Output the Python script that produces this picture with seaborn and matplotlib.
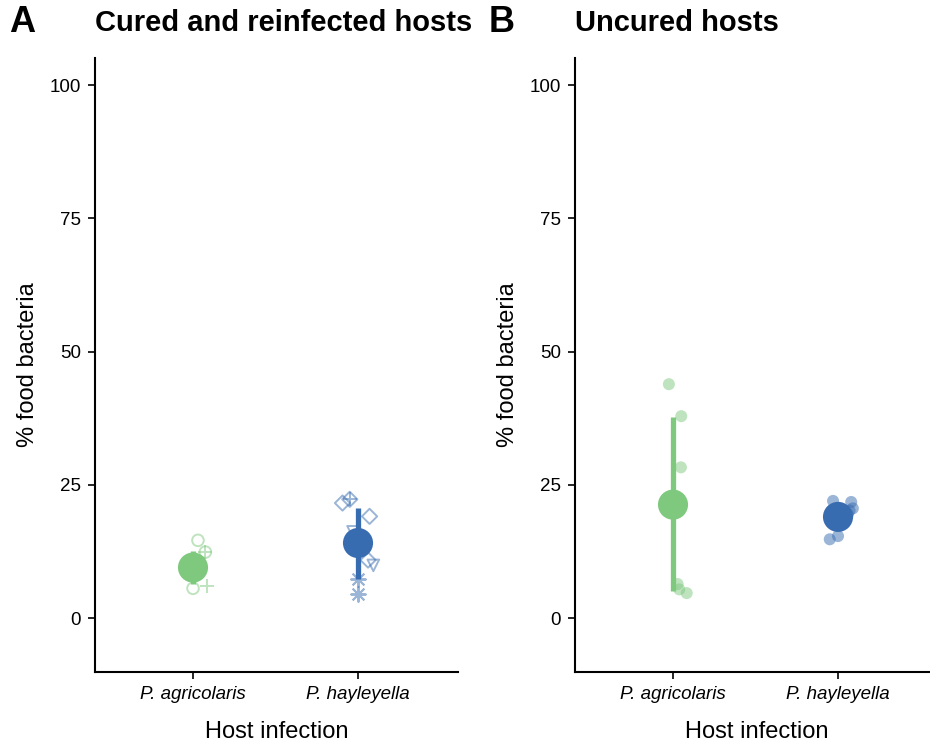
import numpy as np
import pandas as pd
import matplotlib
matplotlib.use("Agg")
import matplotlib.pyplot as plt
from matplotlib.markers import MarkerStyle
import seaborn as sns

# ---------------- data ----------------
hosts = ["P. agricolaris", "P. hayleyella"]
host_colors = ["#7fc97f", "#386cb0"]
yticks = [0, 25, 50, 75, 100]

# Panel A: cured and reinfected hosts (one marker shape per host clone)
a_host = ["P. agricolaris"] * 4 + ["P. hayleyella"] * 8
a_value = [14.6, 12.4, 5.6, 6.0,
           21.6, 22.3, 19.1, 16.2, 10.9, 9.9, 7.4, 4.6]
a_shape = ["circle", "circle plus", "circle", "plus",
           "diamond", "diamond plus", "diamond", "triangle down",
           "diamond", "triangle down", "asterisk", "asterisk"]
a_jitter = [0.03, 0.075, 0.0, 0.083,
            -0.094, -0.05, 0.07, -0.03, 0.061, 0.093, 0.0, 0.0]
a_mean = [9.5, 14.1]
a_low = [6.4, 7.3]
a_high = [12.6, 20.6]

# Panel B: uncured hosts
b_host = ["P. agricolaris"] * 6 + ["P. hayleyella"] * 8
b_value = [43.9, 37.9, 28.3, 6.4, 5.4, 4.7,
           22.0, 21.8, 20.6, 14.8, 15.4, 19.5, 18.6, 20.2]
b_jitter = [-0.025, 0.05, 0.048, 0.028, 0.038, 0.083,
            -0.03, 0.08, 0.09, -0.05, 0.0, 0.06, -0.02, 0.07]
b_mean = [21.3, 19.0]
b_low = [5.1, 16.6]
b_high = [37.7, 21.4]

# ---------------- style ----------------
sns.set_theme(style="ticks")
plt.rcParams["font.family"] = ["Liberation Sans", "DejaVu Sans"]
plt.rcParams["text.color"] = "black"
plt.rcParams["axes.labelcolor"] = "black"

W, H = 930, 744
fig = plt.figure(figsize=(W / 100, H / 100), dpi=100)

ax_w = 363 / W
ax_h = (672 - 58) / H
ax_b = 1 - 672 / H
axA = fig.add_axes([95 / W, ax_b, ax_w, ax_h])
axB = fig.add_axes([575 / W, ax_b, ax_w, ax_h])

shape_markers = {
    "circle": ["o"],
    "circle plus": ["o", "+"],
    "plus": ["+"],
    "diamond": ["D"],
    "diamond plus": ["D", "+"],
    "triangle down": ["v"],
    "asterisk": [(8, 2, 0)],
}
marker_sizes = {"o": 70, "+": 110, "D": 60, "v": 70, (8, 2, 0): 110}

pos = {h: i for i, h in enumerate(hosts)}
col = dict(zip(hosts, host_colors))


def draw_summary(ax, means, lows, highs):
    sdf = pd.DataFrame({"host": hosts, "mean": means, "low": lows, "high": highs})
    sdf["x"] = sdf["host"].map(pos)
    for _, r in sdf.iterrows():
        ax.vlines(r["x"], r["low"], r["high"], color=col[r["host"]],
                  linewidth=3.8, zorder=3)
    sns.scatterplot(data=sdf, x="x", y="mean", hue="host", palette=col,
                    s=470, edgecolor="none", alpha=1, legend=False,
                    ax=ax, zorder=4)


def style_axis(ax):
    ax.set_xlim(-0.594, 1.606)
    ax.set_ylim(-10.1, 105.1)
    ax.set_xticks(range(len(hosts)))
    ax.set_xticklabels(hosts, fontstyle="italic", fontsize=13.5)
    ax.set_yticks(yticks)
    ax.set_yticklabels([str(t) for t in yticks], fontsize=13.5)
    ax.set_xlabel("Host infection", fontsize=17, labelpad=13)
    ax.set_ylabel("% food bacteria", fontsize=17, labelpad=8)
    for s in ["top", "right"]:
        ax.spines[s].set_visible(False)
    for s in ["left", "bottom"]:
        ax.spines[s].set_linewidth(1.5)
        ax.spines[s].set_color("black")
    ax.tick_params(axis="both", width=1.2, length=5, color="black",
                   labelcolor="black", pad=5)


# Panel A
dfA = pd.DataFrame({"host": a_host, "value": a_value, "shape": a_shape,
                    "jit": a_jitter})
dfA["x"] = dfA["host"].map(pos) + dfA["jit"]
for (h, shp), g in dfA.groupby(["host", "shape"]):
    for m in shape_markers[shp]:
        ms = MarkerStyle(m)
        kw = dict(color=col[h], alpha=0.5, linewidth=1.4, s=marker_sizes[m])
        if ms.is_filled():
            kw.update(facecolor="none", edgecolor=col[h])
        sns.scatterplot(data=g, x="x", y="value", marker=m, ax=axA,
                        legend=False, zorder=2, **kw)
draw_summary(axA, a_mean, a_low, a_high)
style_axis(axA)

# Panel B
dfB = pd.DataFrame({"host": b_host, "value": b_value, "jit": b_jitter})
dfB["x"] = dfB["host"].map(pos) + dfB["jit"]
sns.scatterplot(data=dfB, x="x", y="value", hue="host", palette=col,
                s=75, alpha=0.5, edgecolor="none", legend=False, ax=axB,
                zorder=2)
draw_summary(axB, b_mean, b_low, b_high)
style_axis(axB)

# Titles and panel letters
fig.text(9 / W, 1 - 23 / H, "A", fontsize=26, fontweight="bold", va="center", ha="left")
fig.text(95 / W, 1 - 23 / H, "Cured and reinfected hosts", fontsize=21,
         fontweight="bold", va="center", ha="left")
fig.text(489 / W, 1 - 23 / H, "B", fontsize=26, fontweight="bold", va="center", ha="left")
fig.text(575 / W, 1 - 23 / H, "Uncured hosts", fontsize=21,
         fontweight="bold", va="center", ha="left")

fig.savefig("out.png", dpi=100)
